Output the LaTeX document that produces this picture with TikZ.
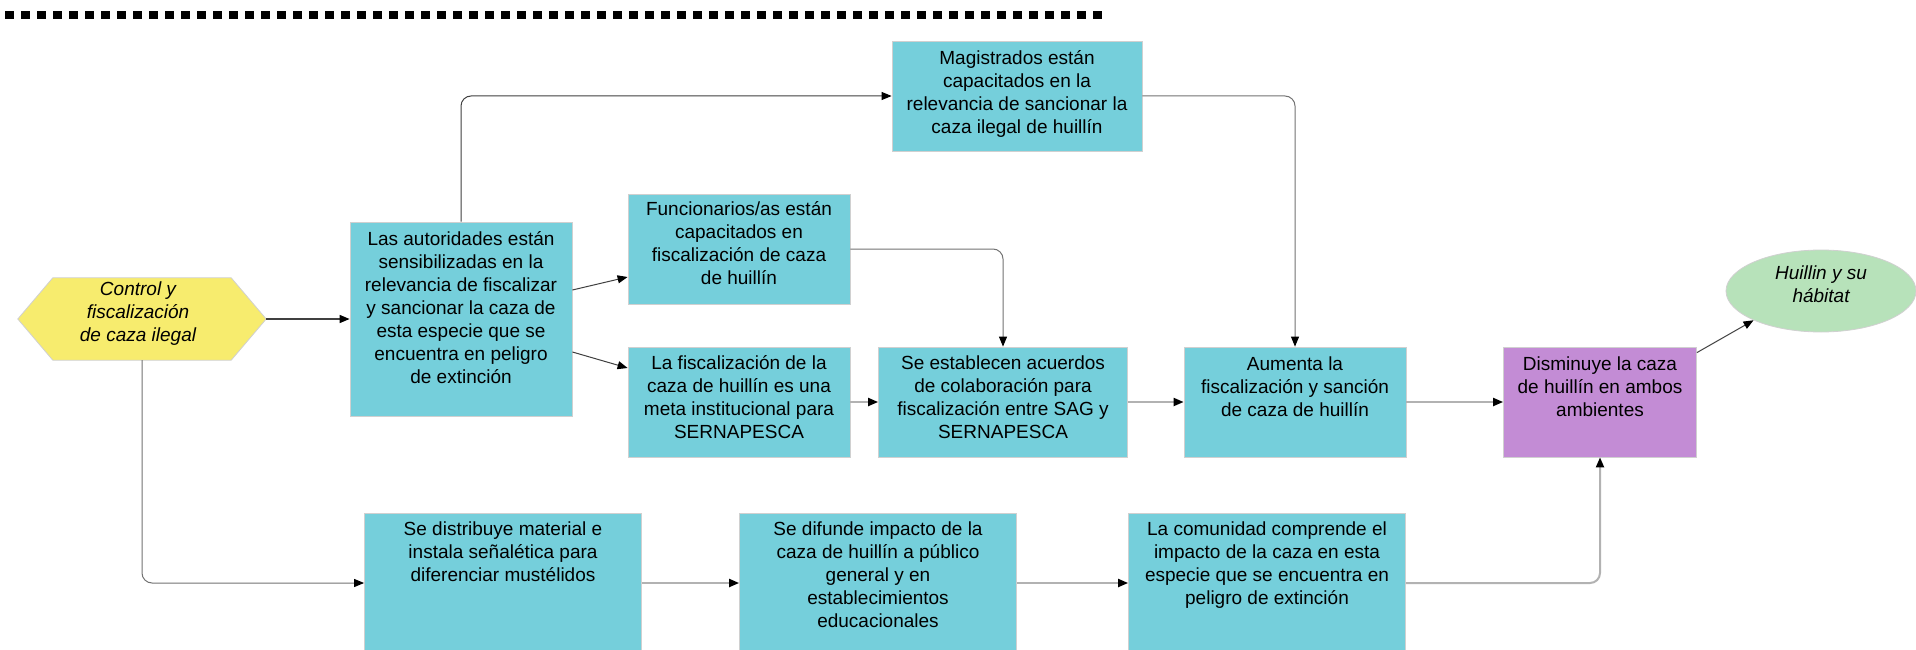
\documentclass[tikz,border=0pt]{standalone}
\usepackage{fontspec}
\setmainfont{Liberation Sans}
\usetikzlibrary{arrows.meta,calc,backgrounds,shapes.geometric}
\definecolor{cyanbox}{HTML}{75CFDB}
\definecolor{purplebox}{HTML}{C38CD5}
\definecolor{yellowhex}{HTML}{F7EC6E}
\definecolor{greenell}{HTML}{B7E2BA}
\definecolor{bordc}{HTML}{D0D0D0}
\begin{document}
\begin{tikzpicture}[x=1pt,y=-1pt,
  box/.style={draw=bordc, line width=0.8pt, fill=cyanbox, inner sep=0},
  txt/.style={font=\fontsize{19}{23}\selectfont, align=center, inner sep=0, anchor=north},
  tip/.style={-{Triangle[length=10pt,width=8pt,color=black]}},
  conn/.style={draw=black!75, line width=1pt, tip, rounded corners=10pt},
  connl/.style={draw=black!30, line width=2pt, tip, rounded corners=10pt}]
\fill[white] (0,0) rectangle (1916,650);
\useasboundingbox (0,0) rectangle (1916,650);
% dashed rule
\draw[line width=8pt, dash pattern=on 9pt off 7pt] (5,15) -- (1103,15);

% hexagon
\node[inner sep=0, minimum width=248, minimum height=82] (hx) at (142,319) {};
\filldraw[fill=yellowhex, draw=bordc, line width=0.8pt]
  (hx.west) -- ($(hx.north west)+(35,0)$) -- ($(hx.north east)+(-35,0)$) -- (hx.east)
  -- ($(hx.south east)+(-35,0)$) -- ($(hx.south west)+(35,0)$) -- cycle;
\node[txt, anchor=center, font=\fontsize{19}{23}\selectfont\itshape] (hxt) at (138,314) {Control y\\fiscalización\\de caza ilegal};

% boxes
\node[box, minimum width=222, minimum height=194] (a) at (461,319) {};
\node[txt] (at) at ($(a.north)+(0,10)$) {Las autoridades están\\sensibilizadas en la\\relevancia de fiscalizar\\y sancionar la caza de\\esta especie que se\\encuentra en peligro\\de extinción};

\node[box, minimum width=250, minimum height=110] (m) at (1017,96) {};
\node[txt] (mt) at ($(m.north)+(0,10)$) {Magistrados están\\capacitados en la\\relevancia de sancionar la\\caza ilegal de huillín};

\node[box, minimum width=222, minimum height=110] (f) at (739,249) {};
\node[txt] (ft) at ($(f.north)+(0,8)$) {Funcionarios/as están\\capacitados en\\fiscalización de caza\\de huillín};

\node[box, minimum width=222, minimum height=110] (l) at (739,402) {};
\node[txt] (lt) at ($(l.north)+(0,9)$) {La fiscalización de la\\caza de huillín es una\\meta institucional para\\SERNAPESCA};

\node[box, minimum width=249, minimum height=110] (s) at (1003,402) {};
\node[txt] (st) at ($(s.north)+(0,9)$) {Se establecen acuerdos\\de colaboración para\\fiscalización entre SAG y\\SERNAPESCA};

\node[box, minimum width=222, minimum height=110] (au) at (1295,402) {};
\node[txt] (aut) at ($(au.north)+(0,10)$) {Aumenta la\\fiscalización y sanción\\de caza de huillín};

\node[box, fill=purplebox, minimum width=193, minimum height=110] (d) at (1600,402) {};
\node[txt] (dt) at ($(d.north)+(0,10)$) {Disminuye la caza\\de huillín en ambos\\ambientes};

\node[ellipse, draw=bordc, line width=0.8pt, fill=greenell, minimum width=190, minimum height=82, inner sep=0] (e) at (1821,291) {};
\node[txt, anchor=center, font=\fontsize{19}{23}\selectfont\itshape] (et) at (1821,284) {Huillin y su\\hábitat};

\node[box, minimum width=277, minimum height=140] (b1) at (503,583) {};
\node[txt] (b1t) at ($(b1.north)+(0,9)$) {Se distribuye material e\\instala señalética para\\diferenciar mustélidos};

\node[box, minimum width=277, minimum height=140] (b2) at (878,583) {};
\node[txt] (b2t) at ($(b2.north)+(0,9)$) {Se difunde impacto de la\\caza de huillín a público\\general y en\\establecimientos\\educacionales};

\node[box, minimum width=277, minimum height=140] (b3) at (1267,583) {};
\node[txt] (b3t) at ($(b3.north)+(0,9)$) {La comunidad comprende el\\impacto de la caza en esta\\especie que se encuentra en\\peligro de extinción};

% connectors
\draw[conn, line width=1.4pt] (hx.east) -- (a.west);
\draw[conn] (a.north) |- (m.west);
\draw[conn, draw=black!55] (m.east) -| (au.north);
\draw[conn] ($(a.east)+(0,-29)$) -- ($(f.west)+(0,28)$);
\draw[conn] ($(a.east)+(0,33)$) -- ($(l.west)+(0,-34)$);
\draw[conn, draw=black!55] (f.east) -| (s.north);
\draw[connl] (l.east) -- (s.west);
\draw[connl] (s.east) -- (au.west);
\draw[connl] (au.east) -- (d.west);
\draw[conn] ($(d.north east)+(0,6)$) -- (e.south west);
\draw[conn, draw=black!55] (hx.south) |- (b1.west);
\draw[connl] (b1.east) -- (b2.west);
\draw[connl] (b2.east) -- (b3.west);
\draw[connl] (b3.east) -| (d.south);
\end{tikzpicture}
\end{document}
